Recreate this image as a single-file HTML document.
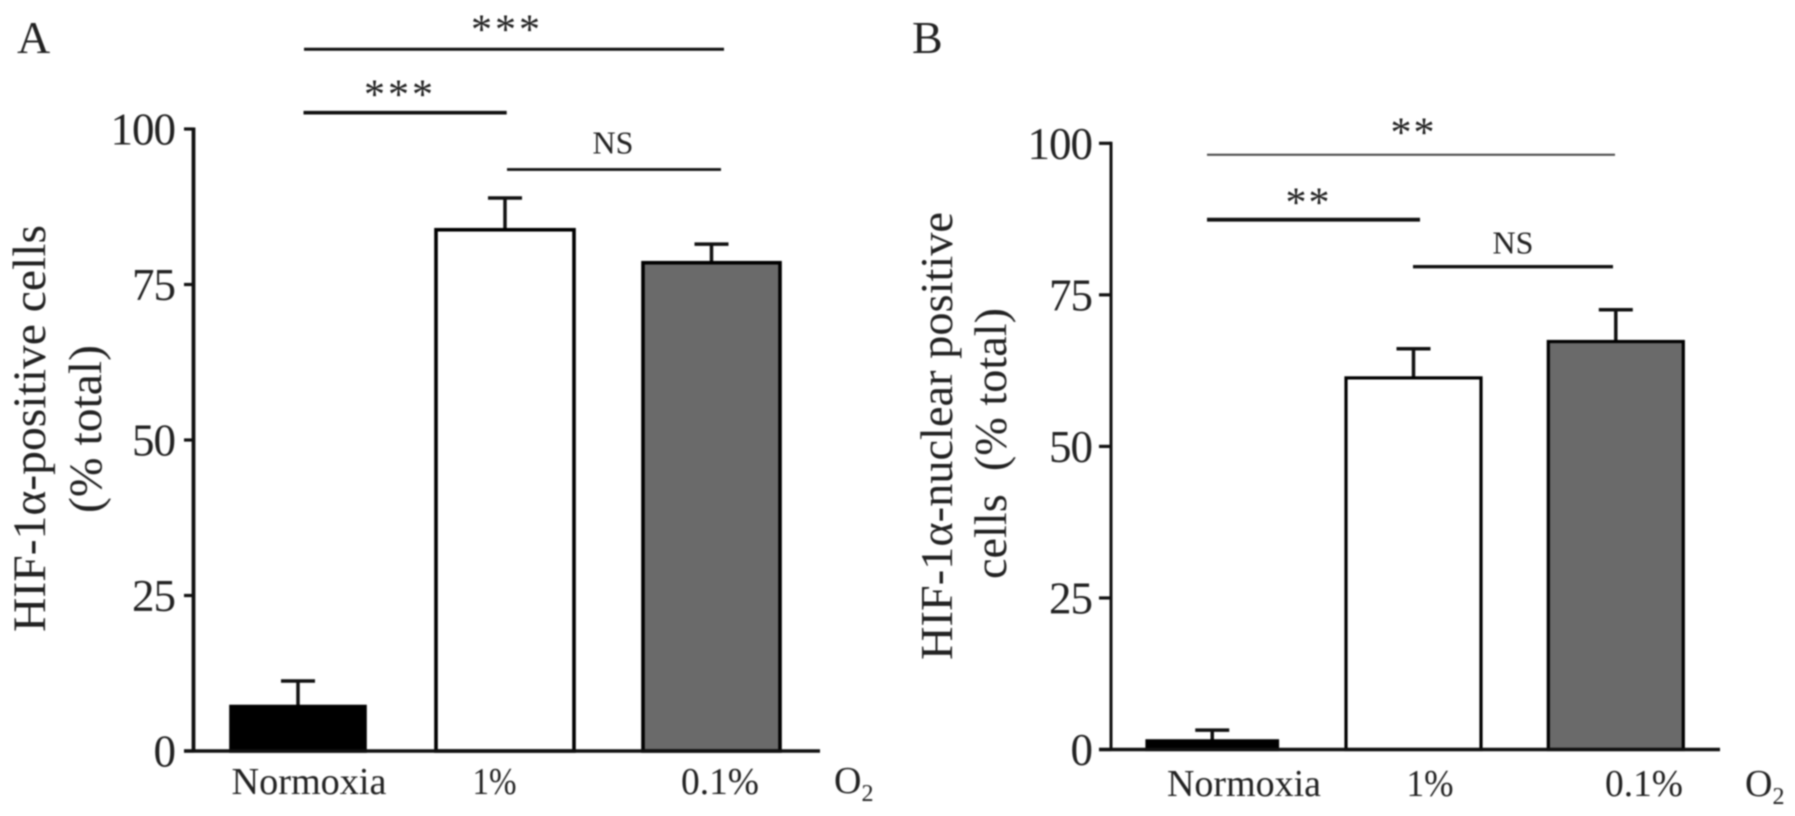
<!DOCTYPE html>
<html>
<head>
<meta charset="utf-8">
<style>
html,body{margin:0;padding:0;background:#fff;width:1795px;height:816px;overflow:hidden}
svg{display:block;filter:blur(.7px)}
text{font-family:"Liberation Serif",serif;fill:#222;white-space:pre}
</style>
</head>
<body>
<svg id="figure" width="1795" height="816" viewBox="0 0 1795 816" xmlns="http://www.w3.org/2000/svg">
  <text x="17" y="53" font-size="46">A</text>
  <text x="912" y="53" font-size="46">B</text>

  <text transform="translate(45,632) rotate(-90)" font-size="47" textLength="407" lengthAdjust="spacingAndGlyphs">HIF-1α-positive cells</text>
  <text transform="translate(101,513) rotate(-90)" font-size="47" textLength="168" lengthAdjust="spacingAndGlyphs">(% total)</text>
  <text transform="translate(952,660) rotate(-90)" font-size="46" textLength="448" lengthAdjust="spacingAndGlyphs">HIF-1α-nuclear positive</text>
  <text transform="translate(1006,579) rotate(-90)" font-size="46" textLength="271" lengthAdjust="spacingAndGlyphs">cells  (% total)</text>

  <text x="834" y="793" font-size="38">O<tspan font-size="24" dy="8">2</tspan></text>
  <text x="1745" y="796" font-size="38">O<tspan font-size="24" dy="8">2</tspan></text>

  <g id="panel-a"></g>
  <g id="panel-b"></g>
</svg>
<script>
var categories = ['Normoxia', '1%', '0.1%'];
var tickValues = [0, 25, 50, 75, 100];
var barFills = ['#000000', '#ffffff', '#6a6a6a'];
var panelAMeans = [7.15, 83.8, 78.5];
var panelAErrorTops = [11.25, 88.9, 81.5];
var panelBMeans = [1.43, 61.3, 67.3];
var panelBErrorTops = [3.2, 66.1, 72.55];

var SVGNS = 'http://www.w3.org/2000/svg';

function makeScale(y0, y100) {
  return function (v) { return y0 + (y100 - y0) * v / 100; };
}

function addLine(parent, x1, y1, x2, y2, width, color, name) {
  var el = document.createElementNS(SVGNS, 'line');
  el.setAttribute('x1', x1);
  el.setAttribute('y1', y1);
  el.setAttribute('x2', x2);
  el.setAttribute('y2', y2);
  el.setAttribute('stroke', color);
  el.setAttribute('stroke-width', width);
  
  
  parent.appendChild(el);
  return el;
}

function addText(parent, x, y, size, anchor, str, name) {
  var el = document.createElementNS(SVGNS, 'text');
  el.setAttribute('x', x);
  el.setAttribute('y', y);
  el.setAttribute('font-size', size);
  el.setAttribute('text-anchor', anchor);
  el.textContent = str;
  
  
  parent.appendChild(el);
  return el;
}

function drawPanel(cfg) {
  var g = document.getElementById(cfg.id);
  var y = makeScale(cfg.y0, cfg.y100);

  cfg.means.forEach(function (m, i) {
    var left = cfg.barLefts[i];
    var right = cfg.barRights[i];
    var cx = (left + right) / 2;
    var top = y(m);
    var errTop = y(cfg.errs[i]);
    addLine(g, cx, top, cx, errTop, 3.5, '#111', 'error-bar-stem-' + i);
    addLine(g, cx - 17, errTop, cx + 17, errTop, 3.5, '#111', 'error-bar-cap-' + i);
    var r = document.createElementNS(SVGNS, 'rect');
    r.setAttribute('x', left);
    r.setAttribute('y', top);
    r.setAttribute('width', right - left);
    r.setAttribute('height', cfg.y0 - top);
    r.setAttribute('fill', barFills[i]);
    r.setAttribute('stroke', '#000');
    r.setAttribute('stroke-width', cfg.barStroke);
    
    
    g.appendChild(r);
    var lab = addText(g, cfg.labelX[i], cfg.labelY, 38, 'middle', categories[i], 'x-category-label-' + i);
    lab.setAttribute('textLength', cfg.labelW[i]);
    lab.setAttribute('lengthAdjust', 'spacingAndGlyphs');
  });

  addLine(g, cfg.axisX, y(100) - 1.5, cfg.axisX, cfg.y0 + 1.5, cfg.axisW, '#111', 'y-axis-line');
  addLine(g, cfg.axisX - cfg.tickLen, cfg.y0, cfg.xEnd, cfg.y0, 3.5, '#111', 'x-axis-line');
  tickValues.forEach(function (t) {
    addLine(g, cfg.axisX - cfg.tickLen, y(t), cfg.axisX, y(t), 3.2, '#111', 'y-tick-' + t);
    var tl = addText(g, cfg.tickEnd, y(t) + 15.5, 45, 'end', String(t), 'y-tick-label-' + t);
    tl.setAttribute('letter-spacing', '-1');
  });

  cfg.brackets.forEach(function (b, i) {
    addLine(g, b.x1, b.y, b.x2, b.y, b.w, b.color, 'significance-line-' + i);
    var s = addText(g, b.tx, b.ty, b.size, 'middle', b.label, 'significance-label-' + i);
    if (b.spacing) { s.setAttribute('letter-spacing', b.spacing); }
  });
}

drawPanel({
  id: 'panel-a', axisX: 193.5, axisW: 3.8, tickLen: 9.5, tickEnd: 175, y0: 751, y100: 129, xEnd: 820,
  barLefts: [231, 436, 643], barRights: [365, 574, 780], barStroke: 3.6,
  means: panelAMeans, errs: panelAErrorTops,
  labelX: [309, 494.5, 720], labelW: [155, 44, 78], labelY: 794,
  brackets: [
    { x1: 304, x2: 724, y: 49.3, w: 3, color: '#111', label: '***', tx: 507, ty: 43.5, size: 42, spacing: 3 },
    { x1: 303.5, x2: 506.7, y: 112.7, w: 3.7, color: '#111', label: '***', tx: 400, ty: 108.5, size: 42, spacing: 3 },
    { x1: 507, x2: 721, y: 169.5, w: 2.7, color: '#111', label: 'NS', tx: 613, ty: 153.5, size: 32, spacing: 0 }
  ]
});

drawPanel({
  id: 'panel-b', axisX: 1111, axisW: 3, tickLen: 12, tickEnd: 1092, y0: 749.5, y100: 143.3, xEnd: 1720,
  barLefts: [1147, 1346, 1548.3], barRights: [1277.5, 1481, 1683.3], barStroke: 3.2,
  means: panelBMeans, errs: panelBErrorTops,
  labelX: [1244, 1430, 1644], labelW: [154, 47, 78], labelY: 796,
  brackets: [
    { x1: 1207, x2: 1615, y: 154.7, w: 2, color: '#444', label: '**', tx: 1413.5, ty: 146.5, size: 42, spacing: 2 },
    { x1: 1207, x2: 1420, y: 219.7, w: 3.8, color: '#111', label: '**', tx: 1308.5, ty: 216.5, size: 42, spacing: 2 },
    { x1: 1413, x2: 1613, y: 266.7, w: 3.4, color: '#111', label: 'NS', tx: 1513, ty: 253.5, size: 32, spacing: 0 }
  ]
});
</script>
</body>
</html>
